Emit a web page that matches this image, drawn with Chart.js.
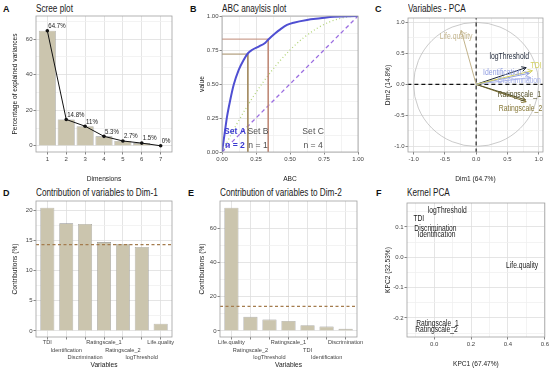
<!DOCTYPE html>
<html>
<head>
<meta charset="utf-8">
<script src="https://cdn.jsdelivr.net/npm/chart.js@4.4.1/dist/chart.umd.min.js"></script>
<style>
  body { margin: 0; width: 550px; height: 372px; background: #fff; position: relative; overflow: hidden; }
  canvas { position: absolute; }
  .tag { position: absolute; font: bold 9px 'Liberation Sans', Arial, sans-serif; color: #111; line-height: 12px; }
  .ttl { position: absolute; font: 10px 'Liberation Sans', Arial, sans-serif; color: #1a1a1a; line-height: 12px; white-space: nowrap;
         transform: scaleX(0.82); transform-origin: 0 50%; }
</style>
</head>
<body>
<div class="tag" style="left:3px;top:3px">A</div>
<div class="ttl" style="left:36px;top:3px">Scree plot</div>
<div class="tag" style="left:190px;top:3px">B</div>
<div class="ttl" style="left:222px;top:3px">ABC anaylsis plot</div>
<div class="tag" style="left:375px;top:3px">C</div>
<div class="ttl" style="left:408px;top:3px">Variables - PCA</div>
<div class="tag" style="left:3px;top:187px">D</div>
<div class="ttl" style="left:36px;top:187px">Contribution of variables to Dim-1</div>
<div class="tag" style="left:188px;top:187px">E</div>
<div class="ttl" style="left:220px;top:187px">Contribution of variables to Dim-2</div>
<div class="tag" style="left:376px;top:187px">F</div>
<div class="ttl" style="left:407px;top:187px">Kernel PCA</div>

<canvas id="chartA" width="180" height="185" style="left:0;top:0"></canvas>
<canvas id="chartB" width="185" height="185" style="left:180px;top:0"></canvas>
<canvas id="chartC" width="185" height="185" style="left:365px;top:0"></canvas>
<canvas id="chartD" width="180" height="187" style="left:0;top:185px"></canvas>
<canvas id="chartE" width="185" height="187" style="left:180px;top:185px"></canvas>
<canvas id="chartF" width="185" height="187" style="left:365px;top:185px"></canvas>

<script>
// --- Data ---
const screeDims = [1, 2, 3, 4, 5, 6, 7];
const screeVals = [64.7, 14.8, 11.0, 5.3, 2.7, 1.5, 0.0];
const screeYTicks = [0, 20, 40, 60];
const screeYMinor = [10, 30, 50, 70];

const abcX = [0, 0.02, 0.037, 0.061, 0.086, 0.123, 0.159, 0.191, 0.22, 0.27, 0.319, 0.343, 0.392, 0.429, 0.478, 0.527, 0.625, 0.723, 0.821, 1];
const abcY = [0, 0.14, 0.26, 0.384, 0.494, 0.604, 0.677, 0.726, 0.75, 0.775, 0.804, 0.829, 0.873, 0.902, 0.934, 0.951, 0.971, 0.983, 0.995, 1];
const uniformX = [0, 0.1, 0.2, 0.3, 0.4, 0.5, 0.6, 0.7, 0.8, 0.9, 1];
const uniformY = [0, 0.19, 0.36, 0.51, 0.64, 0.75, 0.84, 0.91, 0.96, 0.99, 1];
const identityX = [0, 1];
const identityY = [0, 1];
const abcCutX = [0.19, 0.34];
const abcCutY = [0.72, 0.83];
const abcSets = ['Set A', 'Set B', 'Set C'];
const abcSetN = ['n = 2', 'n = 1', 'n = 4'];
const abcTicks = [0, 0.25, 0.5, 0.75, 1];
const abcMinor = [0.125, 0.375, 0.625, 0.875];

const pcaVars = ['TDI', 'Identification', 'Discrimination', 'Ratingscale_1', 'Ratingscale_2', 'logThreshold', 'Life.quality'];
const pcaDim1 = [0.9, 0.85, 0.87, 0.79, 0.8, 0.8, -0.24];
const pcaDim2 = [0.22, 0.18, 0.11, -0.25, -0.28, 0.27, 0.87];
const pcaLabelX = [0.96, 0.42, 0.69, 0.69, 0.71, 0.53, -0.32];
const pcaLabelY = [0.3, 0.19, 0.06, -0.16, -0.39, 0.44, 0.77];
const pcaTicks = [-1, -0.5, 0, 0.5, 1];
const pcaMinor = [-0.75, -0.25, 0.25, 0.75];

const dim1Vars = ['TDI', 'Identification', 'Discrimination', 'Ratingscale_1', 'Ratingscale_2', 'logThreshold', 'Life.quality'];
const dim1Contrib = [20.4, 17.8, 17.7, 14.7, 14.4, 13.9, 1.2];
const dim1Ticks = [0, 5, 10, 15, 20];
const dim1Minor = [2.5, 7.5, 12.5, 17.5];

const dim2Vars = ['Life.quality', 'Ratingscale_2', 'logThreshold', 'Ratingscale_1', 'TDI', 'Identification', 'Discrimination'];
const dim2Contrib = [72.1, 8.2, 6.6, 5.8, 3.3, 2.5, 1.2];
const dim2Ticks = [0, 20, 40, 60];
const dim2Minor = [10, 30, 50, 70];
const contribRef = 14.29;

const kpcVars = ['logThreshold', 'TDI', 'Discrimination', 'Identification', 'Life.quality', 'Ratingscale_1', 'Ratingscale_2'];
const kpc1 = [0.071, -0.083, 0.007, 0.013, 0.477, 0.018, 0.013];
const kpc2 = [0.152, 0.126, 0.093, 0.075, -0.027, -0.22, -0.239];
const kpcXTicks = [0, 0.2, 0.4, 0.6];
const kpcXMinor = [-0.1, 0.1, 0.3, 0.5];
const kpcYTicks = [-0.2, -0.1, 0, 0.1];
const kpcYMinor = [-0.25, -0.15, -0.05, 0.05, 0.15];

// --- Styles ---
const FONT = "'Liberation Sans', Arial, sans-serif";
const GRID = '#dedede', GRID_MINOR = '#f0f0f0', TICK = '#666', FRAME = '#a0a0a0';
const BAR_FILL = '#cbc5ae', BAR_EDGE = '#8f8f8f', REF_LINE = '#a47c4e';
const NARROW = 0.82;
const pcaColors = ['#d4d15e', '#8f9ce0', '#aab4ea', '#57532c', '#877838', '#1c2536', '#c2b38b'];

const pts = (xs, ys) => xs.map((x, i) => ({ x, y: ys[i] }));

Chart.register({
  id: 'frame',
  afterDatasetsDraw(chart) {
    const { ctx, chartArea: a } = chart;
    ctx.save();
    ctx.strokeStyle = FRAME;
    ctx.lineWidth = 0.8;
    ctx.strokeRect(a.left, a.top, a.right - a.left, a.bottom - a.top);
    ctx.restore();
  }
});

// text drawn at data coordinates (condensed horizontally like the original)
const textLayer = (id, items) => ({
  id,
  afterDatasetsDraw(chart) {
    const { ctx, scales: { x, y } } = chart;
    items.forEach(t => {
      ctx.save();
      ctx.font = t.font;
      ctx.fillStyle = t.color;
      ctx.textAlign = t.align || 'center';
      ctx.textBaseline = t.baseline || 'middle';
      ctx.translate(x.getPixelForValue(t.x) + (t.dx || 0), y.getPixelForValue(t.y) + (t.dy || 0));
      ctx.scale(t.sx ?? NARROW, 1);
      ctx.fillText(t.text, 0, 0);
      ctx.restore();
    });
  }
});

function axis(o) {
  const major = o.major, minor = o.minor || [];
  const all = [...major, ...minor].sort((a, b) => a - b);
  const isMajor = v => major.some(m => Math.abs(m - v) < 1e-9);
  return {
    type: 'linear', min: o.min, max: o.max, offset: false,
    afterBuildTicks: s => { s.ticks = all.map(v => ({ value: v })); },
    afterFit: s => { if (s.isHorizontal()) s.height = o.size; else s.width = o.size; },
    border: { display: false },
    grid: {
      offset: false,
      color: c => (c.tick && isMajor(c.tick.value)) ? GRID : GRID_MINOR,
      tickColor: c => (c.tick && isMajor(c.tick.value)) ? TICK : 'transparent',
      tickLength: 2.5, lineWidth: 0.8
    },
    ticks: {
      autoSkip: false, maxRotation: 0, padding: o.tickPad ?? 1, color: '#444',
      font: { family: FONT, size: o.tickSize || 6, lineHeight: o.lineHeight || 1.2 },
      callback: v => isMajor(v) ? o.fmt(v) : ''
    },
    title: { display: true, text: o.title, color: '#1a1a1a', font: { family: FONT, size: 6.6, lineHeight: 1.2 }, padding: o.titlePad }
  };
}

const baseOptions = (top, right, scales) => ({
  responsive: false, animation: false, devicePixelRatio: 1,
  layout: { padding: { top, right, left: 0, bottom: 0 } },
  plugins: { legend: { display: false }, tooltip: { enabled: false } },
  scales
});

// --- A: scree plot ---
new Chart(document.getElementById('chartA'), {
  type: 'bar',
  data: {
    datasets: [
      { type: 'line', data: pts(screeDims, screeVals), borderColor: '#111', borderWidth: 1, pointRadius: 1.8, pointBackgroundColor: '#111', pointBorderWidth: 0, order: 0 },
      { type: 'bar', data: pts(screeDims, screeVals), backgroundColor: BAR_FILL, borderColor: BAR_EDGE, borderWidth: 0.6, barPercentage: 0.9, categoryPercentage: 1, order: 1 }
    ]
  },
  options: baseOptions(16, 8, {
    x: axis({ min: 0.4, max: 7.6, major: screeDims, fmt: v => String(v), title: 'Dimensions', size: 33, titlePad: { bottom: 2 } }),
    y: axis({ min: -3.5, max: 73, major: screeYTicks, minor: screeYMinor, fmt: v => String(v), title: 'Percentage of explained variances', size: 36, titlePad: { top: 11 } })
  }),
  plugins: [textLayer('screeLabels', screeVals.map((v, i) => ({
    x: screeDims[i], y: v, text: v + '%', dx: 1, dy: -1, align: 'left', baseline: 'bottom',
    font: `7.4px ${FONT}`, color: '#1a1a1a'
  })))]
});

// --- B: ABC analysis ---
const setEdges = [0, ...abcCutX, 1];
const setText = [];
abcSets.forEach((s, i) => {
  const cx = (setEdges[i] + setEdges[i + 1]) / 2;
  const first = i === 0;
  const font = first ? `bold 8.6px ${FONT}` : `8.6px ${FONT}`;
  const color = first ? '#3a3ad0' : '#505050';
  setText.push({ x: cx, y: 0.15, text: s, font, color, sx: 1 });
  setText.push({ x: cx, y: 0.046, text: abcSetN[i], font, color, sx: 1 });
});
new Chart(document.getElementById('chartB'), {
  type: 'scatter',
  data: {
    datasets: [
      { data: pts(abcX, abcY), showLine: true, borderColor: '#4f4fd2', borderWidth: 2, pointRadius: 0, cubicInterpolationMode: 'monotone' },
      { data: pts([0, abcCutX[0], abcCutX[0]], [abcCutY[0], abcCutY[0], 0]), showLine: true, borderColor: '#a38b62', borderWidth: 1, pointRadius: 0 },
      { data: pts([0, abcCutX[1], abcCutX[1]], [abcCutY[1], abcCutY[1], 0]), showLine: true, borderColor: '#bf8a76', borderWidth: 1, pointRadius: 0 },
      { data: pts(uniformX, uniformY), showLine: true, borderColor: '#b3d57a', borderWidth: 1.3, borderDash: [1, 2.5], pointRadius: 0, cubicInterpolationMode: 'monotone' },
      { data: pts(identityX, identityY), showLine: true, borderColor: '#9b6de0', borderWidth: 1.3, borderDash: [4, 3], pointRadius: 0 }
    ]
  },
  options: baseOptions(16, 7, {
    x: axis({ min: 0, max: 1, major: abcTicks, minor: abcMinor, fmt: v => v.toFixed(2), title: 'ABC', size: 33, titlePad: { bottom: 2 } }),
    y: axis({ min: 0, max: 1, major: abcTicks, minor: abcMinor, fmt: v => v.toFixed(2), title: 'value', size: 42, titlePad: { top: 18 } })
  }),
  plugins: [textLayer('sets', setText)]
});

// --- C: variables PCA ---
const arrowHeads = {
  id: 'arrowHeads',
  afterDatasetsDraw(chart) {
    const ctx = chart.ctx;
    chart.data.datasets.forEach((ds, i) => {
      if (!ds.arrow) return;
      const [a, b] = chart.getDatasetMeta(i).data;
      const ang = Math.atan2(b.y - a.y, b.x - a.x);
      ctx.save();
      ctx.strokeStyle = ds.borderColor;
      ctx.lineWidth = 1;
      ctx.beginPath();
      ctx.moveTo(b.x - 5 * Math.cos(ang - 0.5), b.y - 5 * Math.sin(ang - 0.5));
      ctx.lineTo(b.x, b.y);
      ctx.lineTo(b.x - 5 * Math.cos(ang + 0.5), b.y - 5 * Math.sin(ang + 0.5));
      ctx.stroke();
      ctx.restore();
    });
  }
};
const unitCircle = {
  id: 'unitCircle',
  beforeDatasetsDraw(chart) {
    const { ctx, scales: { x, y } } = chart;
    const cx = x.getPixelForValue(0), cy = y.getPixelForValue(0);
    ctx.save();
    ctx.strokeStyle = '#bdbdbd';
    ctx.lineWidth = 0.8;
    ctx.beginPath();
    ctx.ellipse(cx, cy, x.getPixelForValue(1) - cx, cy - y.getPixelForValue(1), 0, 0, Math.PI * 2);
    ctx.stroke();
    ctx.restore();
  }
};
new Chart(document.getElementById('chartC'), {
  type: 'scatter',
  data: {
    datasets: [
      ...pcaVars.map((v, i) => ({
        data: pts([0, pcaDim1[i]], [0, pcaDim2[i]]), showLine: true, arrow: true,
        borderColor: pcaColors[i], borderWidth: 1, pointRadius: 0
      })),
      { data: pts([-1.1, 1.1], [0, 0]), showLine: true, borderColor: '#111', borderWidth: 1.1, borderDash: [4, 3], pointRadius: 0 },
      { data: pts([0, 0], [-1.1, 1.1]), showLine: true, borderColor: '#111', borderWidth: 1.1, borderDash: [4, 3], pointRadius: 0 }
    ]
  },
  options: baseOptions(18, 7, {
    x: axis({ min: -1.09, max: 1.07, major: pcaTicks, minor: pcaMinor, fmt: v => v.toFixed(1), title: 'Dim1 (64.7%)', size: 33, titlePad: { bottom: 1.5 } }),
    y: axis({ min: -1.09, max: 1.07, major: pcaTicks, minor: pcaMinor, fmt: v => v.toFixed(1), title: 'Dim2 (14.8%)', size: 43, titlePad: { top: 19 } })
  }),
  plugins: [unitCircle, arrowHeads, textLayer('pcaLabels', pcaVars.map((v, i) => ({
    x: pcaLabelX[i], y: pcaLabelY[i], text: v, font: `8.4px ${FONT}`, color: pcaColors[i]
  })))]
});

// --- D / E: contributions ---
const dodged = names => v => {
  const i = Math.round(v);
  return [...Array(i % 3).fill(''), names[i]];
};
function contribChart(id, names, values, ticks, minor, yMin, yMax, left) {
  const idx = names.map((n, i) => i);
  new Chart(document.getElementById(id), {
    type: 'bar',
    data: {
      datasets: [
        { type: 'line', data: pts([-0.6, 6.6], [contribRef, contribRef]), borderColor: REF_LINE, borderWidth: 1.2, borderDash: [3, 2.5], pointRadius: 0, order: 0 },
        { type: 'bar', data: pts(idx, values), backgroundColor: BAR_FILL, borderColor: BAR_EDGE, borderWidth: 0.6, barPercentage: 0.74, categoryPercentage: 1, order: 1 }
      ]
    },
    options: baseOptions(16, 8, {
      x: axis({ min: -0.6, max: 6.6, major: idx, fmt: dodged(names), title: 'Variables', size: 35, titlePad: { bottom: 3 }, tickSize: 5.6, lineHeight: 1.34, tickPad: -0.5 }),
      y: axis({ min: yMin, max: yMax, major: ticks, minor, fmt: v => String(v), title: 'Contributions (%)', size: left, titlePad: { top: left === 36 ? 11 : 18 } })
    })
  });
}
contribChart('chartD', dim1Vars, dim1Contrib, dim1Ticks, dim1Minor, -1, 21.5, 36);
contribChart('chartE', dim2Vars, dim2Contrib, dim2Ticks, dim2Minor, -3.6, 76, 40);

// --- F: kernel PCA ---
new Chart(document.getElementById('chartF'), {
  type: 'scatter',
  data: { datasets: [{ data: pts(kpc1, kpc2), pointRadius: 0 }] },
  options: baseOptions(18, 5, {
    x: axis({ min: -0.147, max: 0.6, major: kpcXTicks, minor: kpcXMinor, fmt: v => v.toFixed(1), title: 'KPC1 (67.47%)', size: 35, titlePad: { bottom: 4 } }),
    y: axis({ min: -0.263, max: 0.179, major: kpcYTicks, minor: kpcYMinor, fmt: v => v.toFixed(1), title: 'KPC2 (32.53%)', size: 42, titlePad: { top: 19 } })
  }),
  plugins: [textLayer('kpcLabels', kpcVars.map((v, i) => ({
    x: kpc1[i], y: kpc2[i], text: v, font: `8.2px ${FONT}`, color: '#1a1a1a'
  })))]
});
</script>
</body>
</html>
